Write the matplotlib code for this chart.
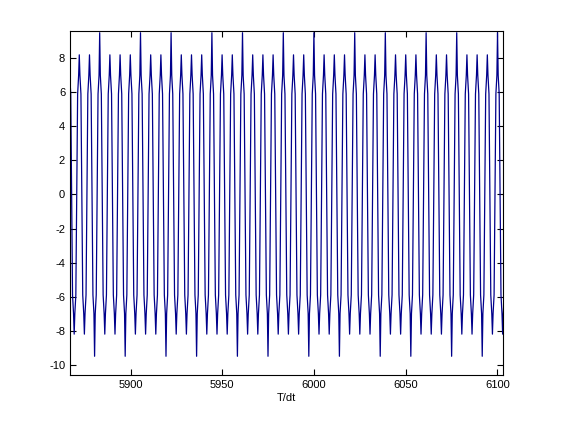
import matplotlib
matplotlib.use("Agg")
import matplotlib.pyplot as plt
import numpy as np

# extrema of the oscillation, alternating crest / trough
tops = [9.5, 8.2, 8.2, 9.5, 8.2, 8.2, 8.2, 9.5, 8.2, 8.2, 9.5, 8.2, 8.2, 8.2,
        9.5, 8.2, 8.2, 9.5, 8.2, 8.2, 8.2, 9.5, 8.2, 8.2, 9.5, 8.2, 8.2, 8.2,
        9.5, 8.2, 8.2, 9.5, 8.2, 8.2, 8.2, 9.5, 8.2, 8.2, 9.5, 8.2, 8.2, 8.2,
        9.5]
bottoms = [-8.2, -8.2, -9.5, -8.2, -8.2, -9.5, -8.2, -8.2, -8.2, -9.5, -8.2,
           -8.2, -9.5, -8.2, -8.2, -8.2, -9.5, -8.2, -8.2, -9.5, -8.2, -8.2,
           -8.2, -9.5, -8.2, -8.2, -9.5, -8.2, -8.2, -8.2, -9.5, -8.2, -8.2,
           -9.5, -8.2, -8.2, -8.2, -9.5, -8.2, -8.2, -9.5, -8.2, -8.2]
# shoulder levels next to each extremum
shoulder = [7.0, 5.9]
t_start = 5866.5
half_period = 2.78


def main():
    plt.rcParams['font.family'] = ['Liberation Sans', 'DejaVu Sans']
    plt.rcParams['axes.unicode_minus'] = False

    ext = []
    for a, b in zip(tops, bottoms):
        ext += [a, b]
    t, v = [], []
    for i, e in enumerate(ext):
        tc = t_start + half_period * i
        s = np.sign(e)
        t += [tc - 0.9, tc - 0.35, tc, tc + 0.35, tc + 0.9]
        v += [s * shoulder[1], s * shoulder[0], e, s * shoulder[0], s * shoulder[1]]

    fig = plt.figure(figsize=(5.61, 4.21), dpi=100)
    ax = fig.add_axes([70 / 561, 46 / 421, 433 / 561, 344 / 421])
    ax.plot(t, v, color='#00008b', linewidth=0.9)
    ax.set_xlim(5867, 6103)
    ax.set_ylim(-10.6, 9.6)
    ax.set_xticks([5900, 5950, 6000, 6050, 6100])
    ax.set_yticks(range(-10, 9, 2))
    ax.tick_params(direction='in', labelsize=8, top=True, right=True, length=4)
    ax.set_xlabel('T/dt', fontsize=8, labelpad=2)
    fig.savefig('out.png', dpi=100)


if __name__ == "__main__":
    main()
